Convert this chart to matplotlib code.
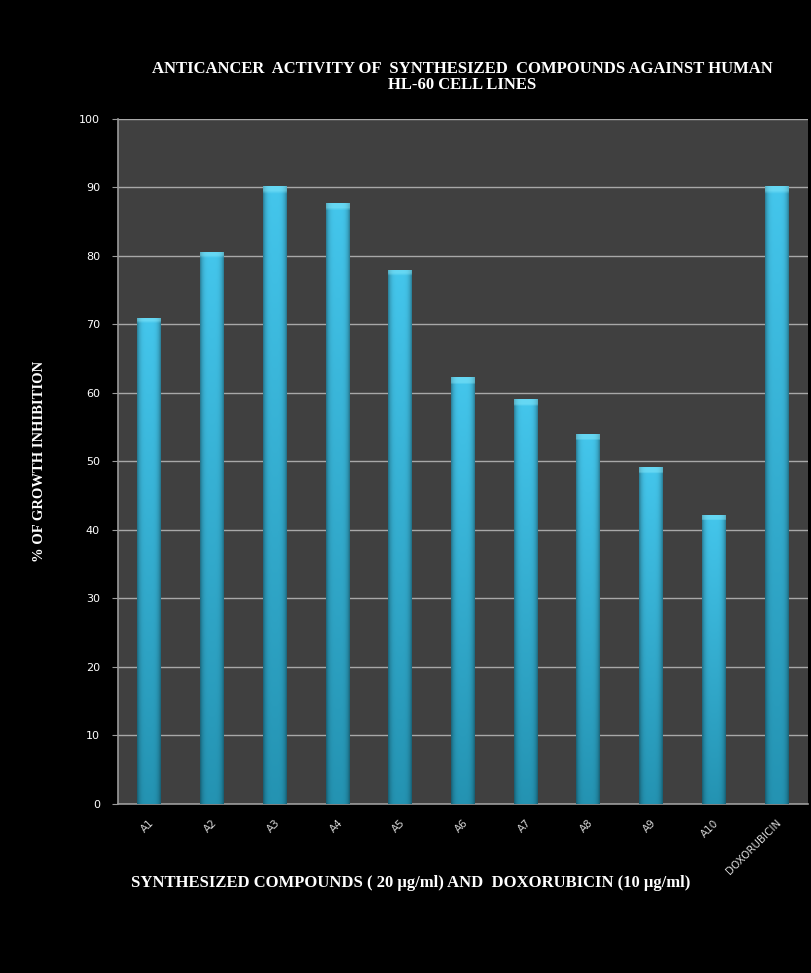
import numpy as np
import matplotlib
matplotlib.use("Agg")
import matplotlib.pyplot as plt

compounds = ["A1", "A2", "A3", "A4", "A5", "A6", "A7", "A8", "A9", "A10", "DOXORUBICIN"]
inhibition = [71.0, 80.6, 90.2, 87.7, 78.0, 62.3, 59.1, 54.0, 49.2, 42.2, 90.2]
y_ticks = [0, 10, 20, 30, 40, 50, 60, 70, 80, 90, 100]

serif = ["Liberation Serif", "DejaVu Serif"]

fig = plt.figure(figsize=(8.12, 9.73), dpi=100, facecolor="black")
ax = fig.add_axes([0.1453, 0.1737, 0.8497, 0.704])
ax.set_facecolor("#404040")

x = np.arange(len(compounds))
bars = ax.bar(x, inhibition, width=0.38, color="none", edgecolor="none", zorder=3)

# gradient fill for each bar (dark at the bottom, lighter at the top, shaded edges)
bottom_c = np.array([0x24, 0x93, 0xb2]) / 255
top_c = np.array([0x44, 0xc6, 0xec]) / 255
for b in bars:
    bx, by = b.get_x(), b.get_y()
    w, h = b.get_width(), b.get_height()
    ny, nx = 200, 40
    t = np.linspace(0, 1, ny)[:, None, None]
    col = bottom_c + (top_c - bottom_c) * t
    u = np.linspace(-1, 1, nx)[None, :, None]
    shade = 1.0 - 0.35 * np.abs(u) ** 4
    img = np.clip(col * shade, 0, 1)
    # light cap at the top of the bar
    cap = int(ny * min(1.0, 1.0 / h))
    img[-cap:, :, :] = np.clip(img[-cap:, :, :] * 0.6 + np.array([0.6, 0.95, 1.0]) * 0.4, 0, 1)
    im = ax.imshow(img, extent=[bx, bx + w, by, by + h], origin="lower",
                   aspect="auto", zorder=3, interpolation="bilinear")
    im.set_clip_path(b)

ax.set_xlim(-0.5, len(compounds) - 0.5)
ax.set_ylim(0, 100)
ax.set_yticks(y_ticks)
ax.yaxis.grid(True, color="#a8a8a8", linewidth=1.0, zorder=1)
ax.set_axisbelow(True)

for side in ["top", "right"]:
    ax.spines[side].set_visible(False)
for side in ["left", "bottom"]:
    ax.spines[side].set_color("#9a9a9a")
    ax.spines[side].set_linewidth(1.2)

ax.tick_params(axis="y", colors="#9a9a9a", labelcolor="white", labelsize=8,
               length=4, pad=9)
ax.tick_params(axis="x", length=0, pad=10)
ax.set_xticks(x)
ax.set_xticklabels(compounds, rotation=45, ha="right", rotation_mode="anchor",
                   color="#d8d8d8", fontsize=7.5)

fig.text(0.569, 0.921, "ANTICANCER  ACTIVITY OF  SYNTHESIZED  COMPOUNDS AGAINST HUMAN\nHL-60 CELL LINES",
         ha="center", va="center", color="white", fontsize=12, fontweight="bold",
         family=serif, linespacing=1.05)
ax.set_ylabel("% OF GROWTH INHIBITION", color="white", fontsize=10.5,
              fontweight="bold", family=serif, labelpad=24)
fig.text(0.506, 0.0925, "SYNTHESIZED COMPOUNDS ( 20 µg/ml) AND  DOXORUBICIN (10 µg/ml)",
         ha="center", va="center", color="white", fontsize=12, fontweight="bold",
         family=serif)

fig.savefig("out.png", dpi=100, facecolor="black")
